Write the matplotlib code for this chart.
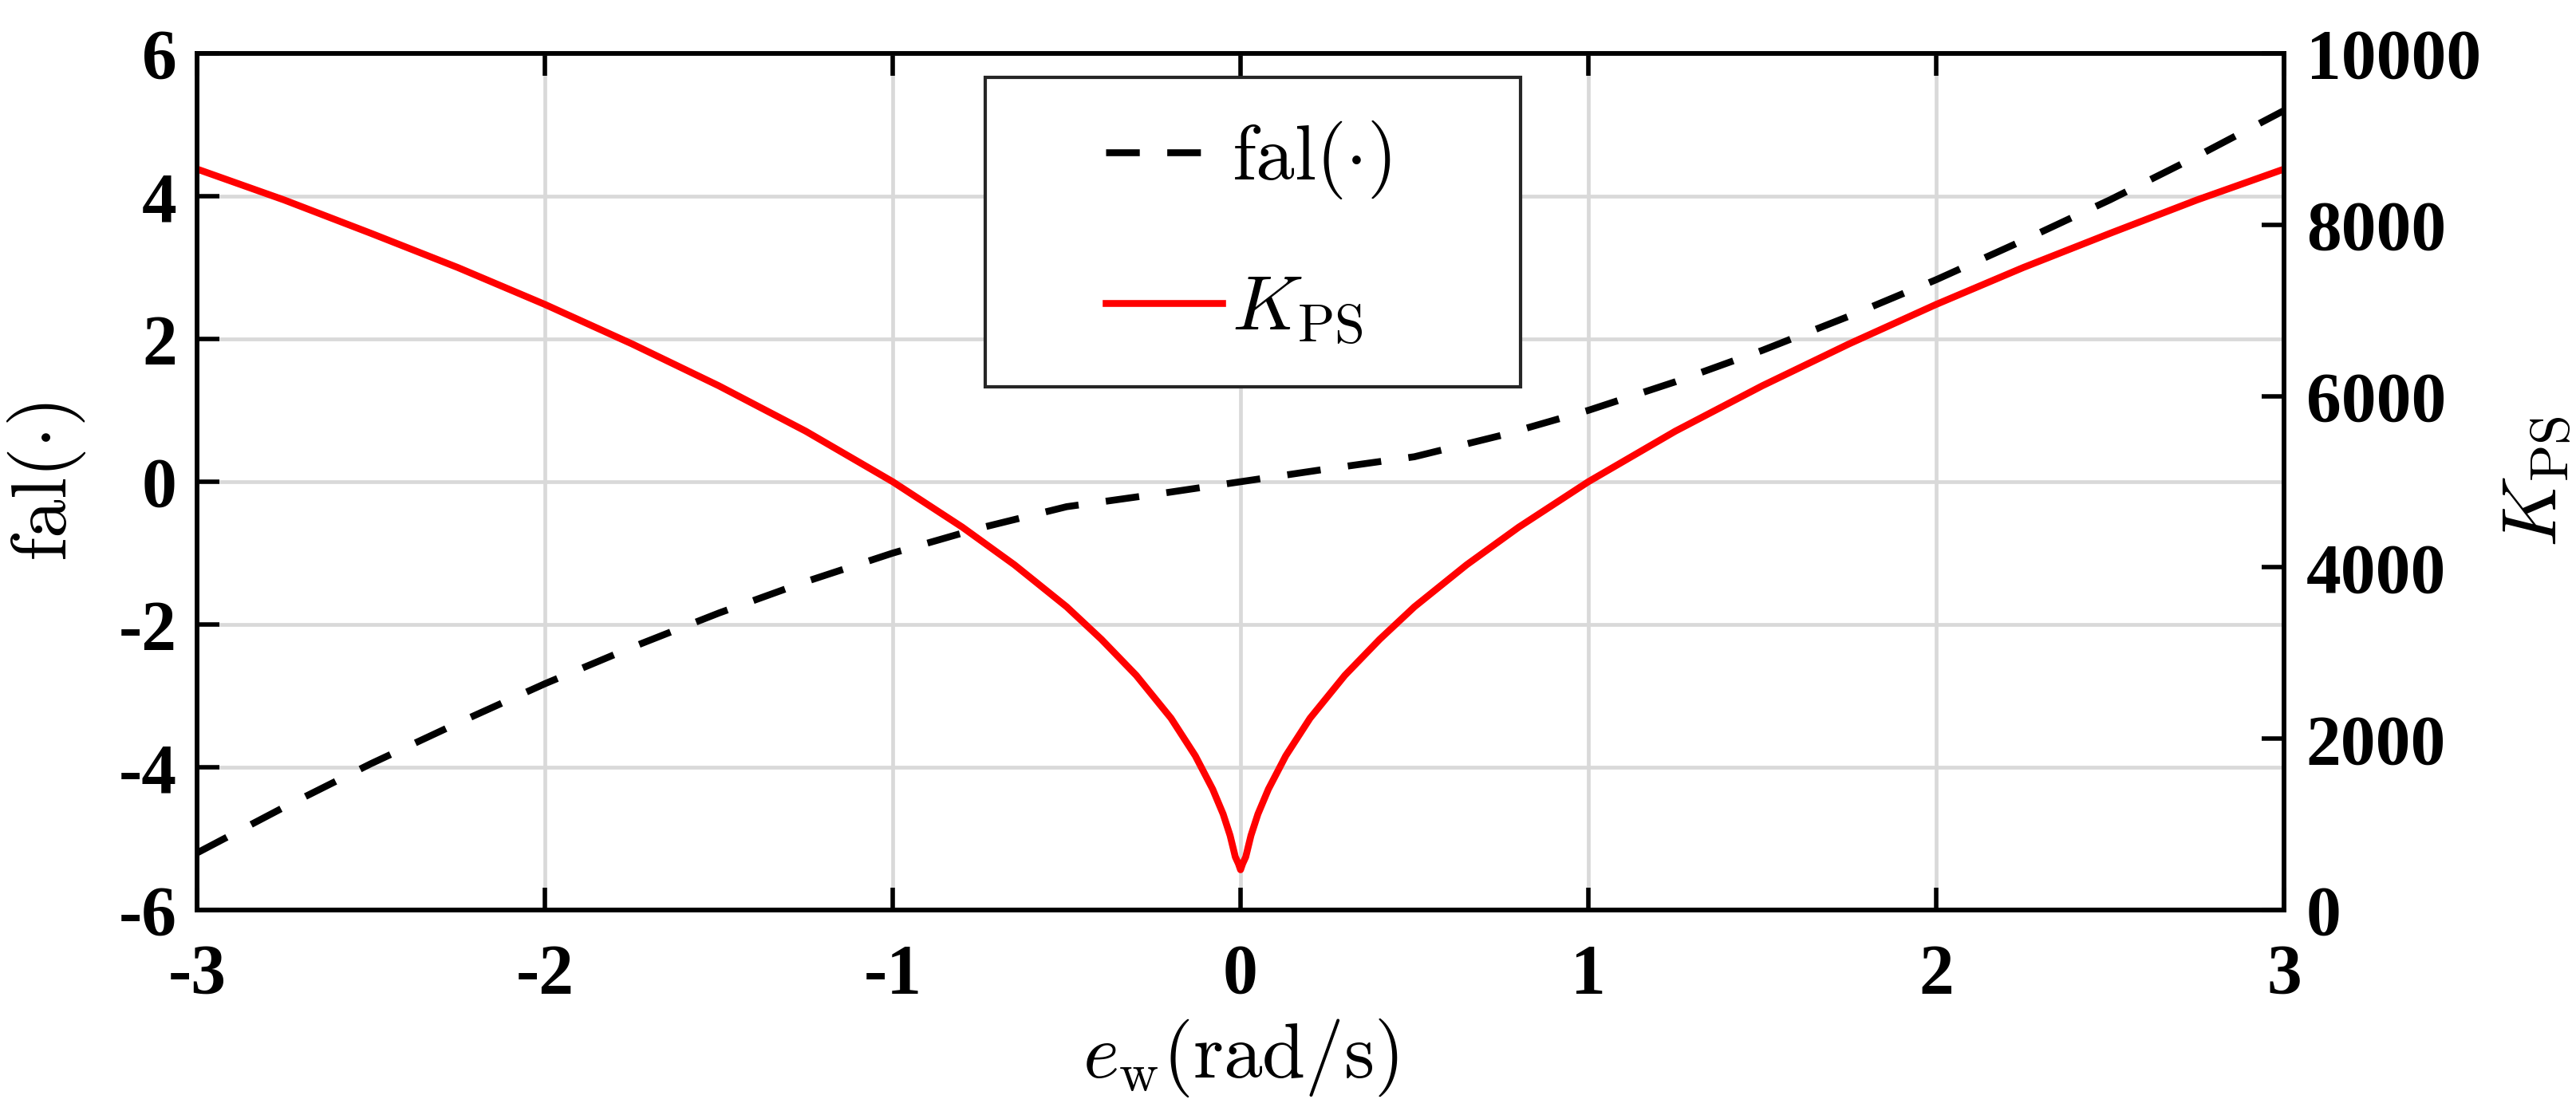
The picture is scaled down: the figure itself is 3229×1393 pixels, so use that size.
import matplotlib
matplotlib.use("Agg")
import matplotlib.pyplot as plt
from matplotlib.patches import Rectangle

# ---------------- data ----------------
e_fal = [-3, -2.75, -2.5, -2.25, -2, -1.75, -1.5, -1.25, -1, -0.75, -0.5, -0.25, 0,
         0.25, 0.5, 0.75, 1, 1.25, 1.5, 1.75, 2, 2.25, 2.5, 2.75, 3]
fal_vals = [-5.20, -4.56, -3.95, -3.38, -2.83, -2.32, -1.84, -1.40, -1.00, -0.65, -0.35, -0.18, 0.0,
            0.18, 0.35, 0.65, 1.00, 1.40, 1.84, 2.32, 2.83, 3.38, 3.95, 4.56, 5.20]

e_k = [-3, -2.75, -2.5, -2.25, -2, -1.75, -1.5, -1.25, -1, -0.8, -0.65, -0.5, -0.4, -0.3,
       -0.2, -0.13, -0.08, -0.05, -0.03, -0.015, -0.006, 0, 0.006, 0.015, 0.03, 0.05, 0.08,
       0.13, 0.2, 0.3, 0.4, 0.5, 0.65, 0.8, 1, 1.25, 1.5, 1.75, 2, 2.25, 2.5, 2.75, 3]
k_vals = [8650, 8290, 7900, 7500, 7070, 6610, 6120, 5590, 5000, 4470, 4030, 3540, 3160, 2740,
          2240, 1800, 1410, 1120, 870, 620, 540, 470, 540, 620, 870, 1120, 1410,
          1800, 2240, 2740, 3160, 3540, 4030, 4470, 5000, 5590, 6120, 6610, 7070, 7500, 7900, 8290, 8650]

x_ticks = [-3, -2, -1, 0, 1, 2, 3]
x_tick_labels = ["-3", "-2", "-1", "0", "1", "2", "3"]
yl_ticks = [-6, -4, -2, 0, 2, 4, 6]
yl_tick_labels = ["-6", "-4", "-2", "0", "2", "4", "6"]
yr_ticks = [0, 2000, 4000, 6000, 8000, 10000]
yr_tick_labels = ["0", "2000", "4000", "6000", "8000", "10000"]

label_fal = r"$\mathrm{fal}(\cdot)$"
label_k = r"$K_{\mathrm{PS}}$"
label_x = r"$e_{\mathrm{w}}(\mathrm{rad/s})$"

# ---------------- style ----------------
plt.rcParams["mathtext.fontset"] = "cm"
plt.rcParams["font.family"] = ["Liberation Serif", "DejaVu Serif"]

W, H = 3230, 1393
DPI = 100
fig = plt.figure(figsize=(W / DPI, H / DPI), dpi=DPI)

left, right, top, bottom = 247, 2863, 67, 1141
ax = fig.add_axes([left / W, 1 - bottom / H, (right - left) / W, (bottom - top) / H])
ax2 = ax.twinx()

LW = 6.2
SPINE = 4.0
TICKFS = 63
LABELFS = 70

l1, = ax.plot(e_fal, fal_vals, color="black", lw=LW, linestyle=(0, (4.9, 4.0)),
              dash_capstyle="butt", label=label_fal)
l2, = ax2.plot(e_k, k_vals, color="#ff0000", lw=LW, label=label_k, solid_joinstyle="round")

ax.set_xlim(-3, 3)
ax.set_ylim(-6, 6)
ax2.set_ylim(0, 10000)

ax.set_xticks(x_ticks, labels=x_tick_labels)
ax.set_yticks(yl_ticks, labels=yl_tick_labels)
ax2.set_yticks(yr_ticks, labels=yr_tick_labels)

ax.grid(True, color="#d9d9d9", lw=3.4)
ax.set_axisbelow(True)

ax.tick_params(axis="x", direction="in", length=20, width=SPINE, top=True,
               labelsize=TICKFS, pad=30)
ax.tick_params(axis="y", direction="in", length=20, width=SPINE, right=False,
               labelsize=TICKFS, pad=18)
ax2.tick_params(axis="y", direction="in", length=20, width=SPINE,
                labelsize=TICKFS, pad=20)

for lab in ax.get_xticklabels() + ax.get_yticklabels() + ax2.get_yticklabels():
    lab.set_fontweight("bold")
    lab.set_family(["Liberation Serif", "DejaVu Serif"])

for a in (ax, ax2):
    for s in a.spines.values():
        s.set_linewidth(SPINE)
        s.set_color("black")

ax.set_xlabel(label_x, fontsize=LABELFS, labelpad=8)
ax.set_ylabel(label_fal, fontsize=LABELFS, labelpad=28)
ax2.set_ylabel(label_k, fontsize=LABELFS, labelpad=20)

# legend (frame drawn separately to match wide horizontal padding)
fx0, fx1 = 1235 / W, 1906 / W
fy0, fy1 = 1 - 485 / H, 1 - 97 / H
frame = Rectangle((fx0, fy0), fx1 - fx0, fy1 - fy0, transform=fig.transFigure,
                  facecolor="white", edgecolor="#262626", lw=3.0, zorder=9)
ax2.add_artist(frame)
frame.set_clip_on(False)

leg = ax2.legend(handles=[l1, l2], labels=[label_fal, label_k], loc="center",
                 bbox_to_anchor=(1565 / W, 1 - 292 / H), bbox_transform=fig.transFigure,
                 frameon=False, fontsize=LABELFS, handlelength=1.5, handletextpad=0.13,
                 labelspacing=0.97, borderpad=0.0)
leg.set_zorder(10)

fig.savefig("out.png", dpi=DPI, facecolor="white")
